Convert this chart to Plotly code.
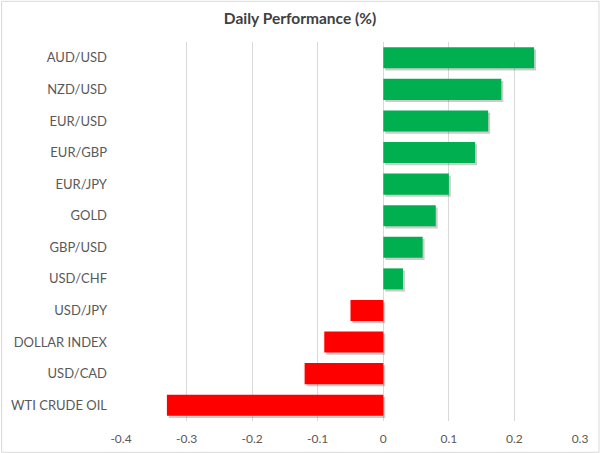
import plotly.graph_objects as go

categories = ["AUD/USD", "NZD/USD", "EUR/USD", "EUR/GBP", "EUR/JPY", "GOLD",
              "GBP/USD", "USD/CHF", "USD/JPY", "DOLLAR INDEX", "USD/CAD", "WTI CRUDE OIL"]
values = [0.23, 0.18, 0.16, 0.14, 0.10, 0.08, 0.06, 0.03, -0.05, -0.09, -0.12, -0.33]
tick_vals = [-0.4, -0.3, -0.2, -0.1, 0, 0.1, 0.2, 0.3]
tick_text = ["-0.4", "-0.3", "-0.2", "-0.1", "0", "0.1", "0.2", "0.3"]

colors = ["#00B050" if v >= 0 else "#FF0000" for v in values]

W, H = 600, 453
L, R, T, B = 120.5, 20, 41.7, 32.3
pw, ph = W - L - R, H - T - B

fig = go.Figure()
# soft shadow
fig.add_trace(go.Bar(
    y=categories, x=values, base=0.003, orientation="h",
    width=0.665, offset=-0.3325 + 0.07,
    marker=dict(color="rgba(0,0,0,0.2)", line=dict(width=0)),
    hoverinfo="skip", showlegend=False))
fig.add_trace(go.Bar(
    y=categories, x=values, orientation="h",
    width=0.665, offset=-0.3325,
    marker=dict(color=colors, line=dict(width=0)),
    showlegend=False))

fig.update_layout(
    width=W, height=H,
    margin=dict(l=L, r=R, t=T, b=B, autoexpand=False),
    paper_bgcolor="white", plot_bgcolor="white",
    barmode="overlay",
    font=dict(family="Lato, 'Open Sans', sans-serif", size=13, color="#595959"),
    title=dict(text="<b>Daily Performance (%)</b>", x=0.5, xref="container",
               xanchor="center", y=1 - 19 / H, yanchor="middle",
               font=dict(size=15.5, color="#404040")),
    xaxis=dict(range=[-0.4, 0.3], tickvals=tick_vals, ticktext=tick_text,
               showgrid=True, gridcolor="#d9d9d9", gridwidth=1,
               zeroline=True, zerolinecolor="#d9d9d9", zerolinewidth=1,
               showline=False, ticks="", ticklabelstandoff=9,
               automargin=False, tickfont=dict(size=12)),
    yaxis=dict(range=[len(categories) - 0.5, -0.5], autorange=False,
               showgrid=False, zeroline=False, automargin=False,
               ticks="", ticklabelstandoff=13, tickfont=dict(size=13)),
)

# outer light border
fig.add_shape(type="rect", xref="paper", yref="paper",
              x0=(1 - L) / pw, x1=(W - 1 - L) / pw,
              y0=-(H - 1 - T - ph) / ph, y1=1 + (T - 1) / ph,
              line=dict(color="#d9d9d9", width=1), fillcolor="rgba(0,0,0,0)",
              layer="below")

fig.write_html("out.html", config={"displayModeBar": False},
               post_script="document.body.style.margin='0';document.body.style.padding='0';")
